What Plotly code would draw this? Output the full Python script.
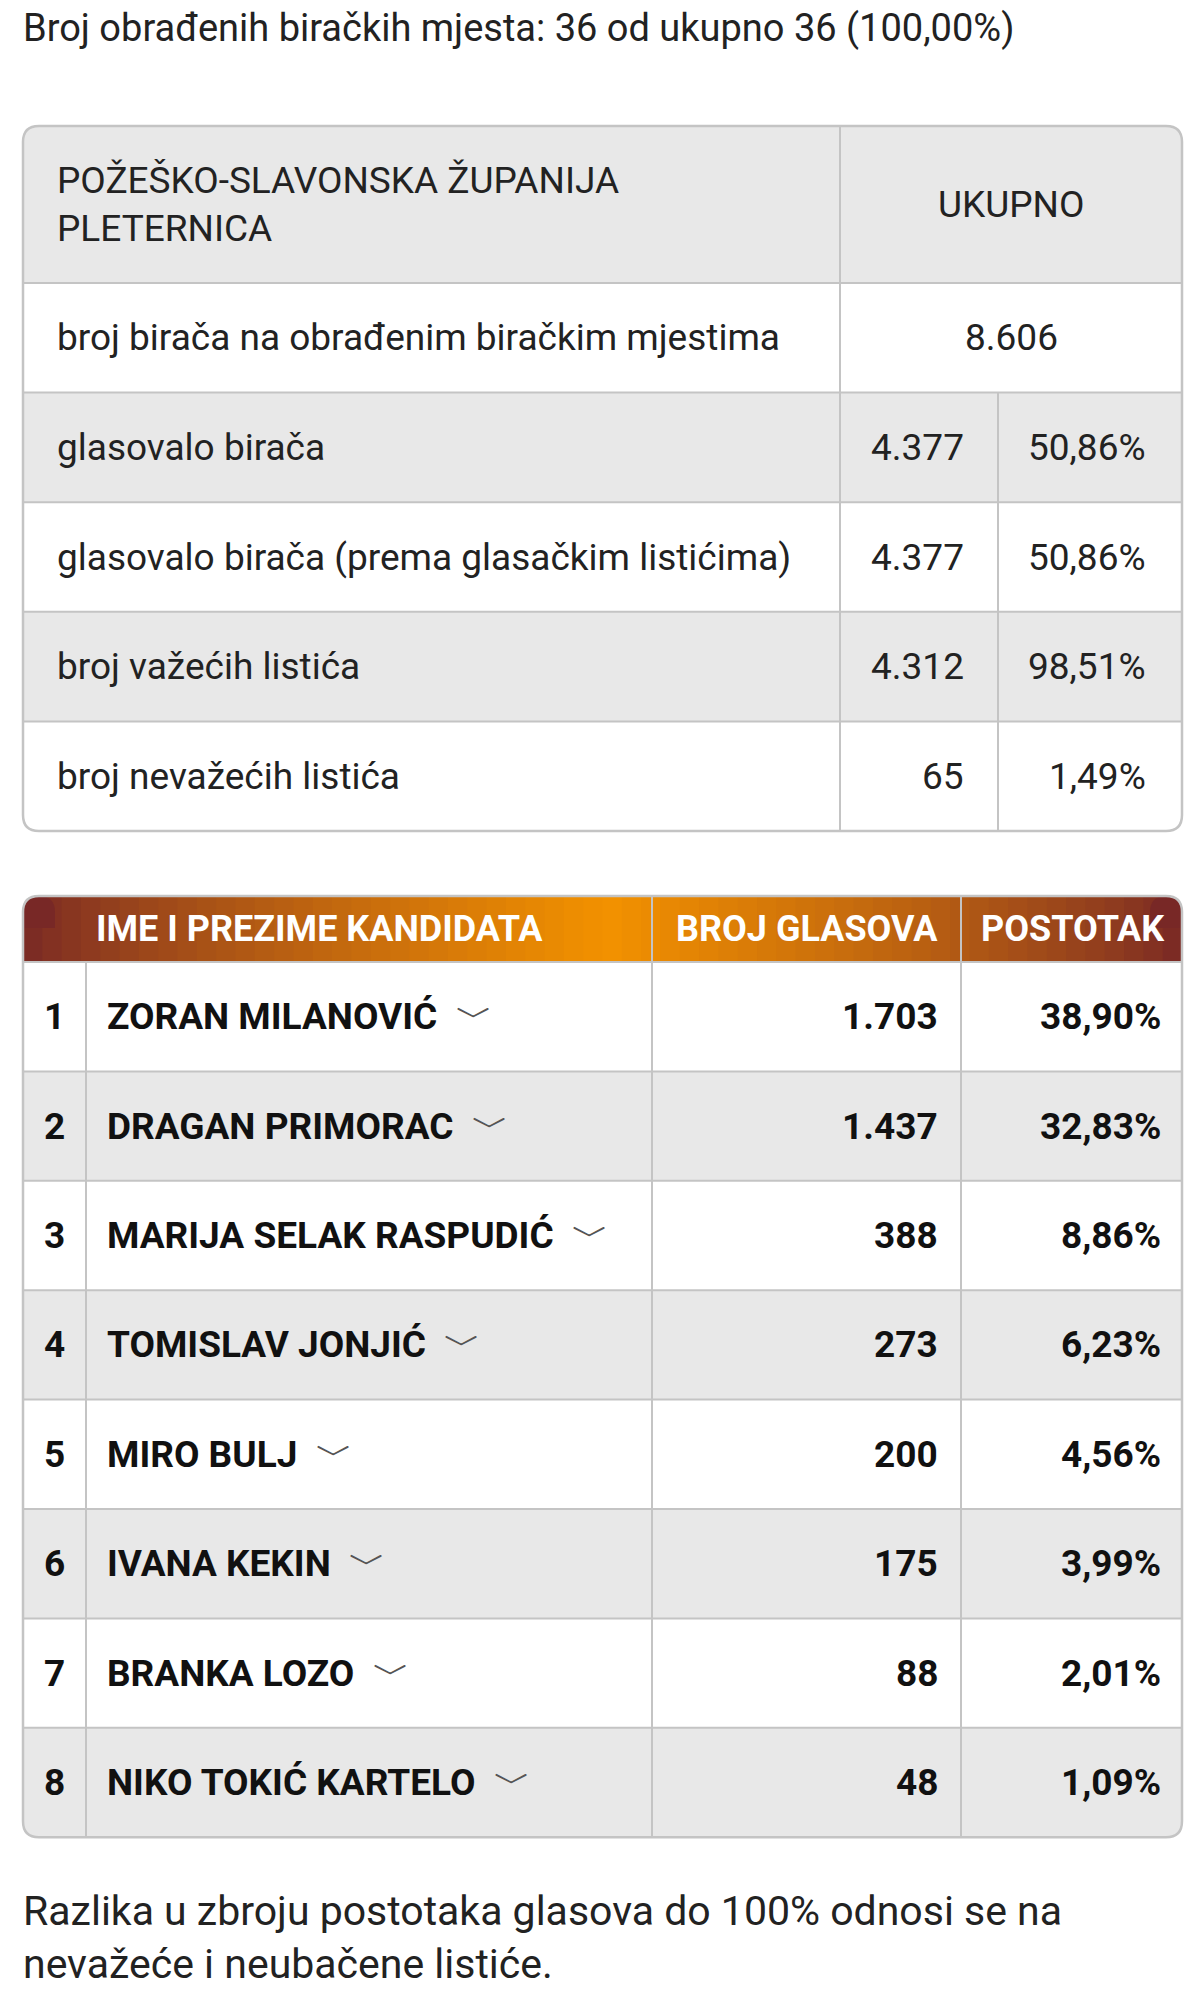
import plotly.graph_objects as go

# data
title = "Broj obrađenih biračkih mjesta: 36 od ukupno 36 (100,00%)"
region = ["POŽEŠKO-SLAVONSKA ŽUPANIJA", "PLETERNICA"]
total_voters = "8.606"
stat_labels = ["glasovalo birača", "glasovalo birača (prema glasačkim listićima)",
               "broj važećih listića", "broj nevažećih listića"]
stat_counts = ["4.377", "4.377", "4.312", "65"]
stat_pcts = ["50,86%", "50,86%", "98,51%", "1,49%"]
headers = ["IME I PREZIME KANDIDATA", "BROJ GLASOVA", "POSTOTAK"]
candidates = ["ZORAN MILANOVIĆ", "DRAGAN PRIMORAC", "MARIJA SELAK RASPUDIĆ", "TOMISLAV JONJIĆ",
              "MIRO BULJ", "IVANA KEKIN", "BRANKA LOZO", "NIKO TOKIĆ KARTELO"]
votes = ["1.703", "1.437", "388", "273", "200", "175", "88", "48"]
pcts = ["38,90%", "32,83%", "8,86%", "6,23%", "4,56%", "3,99%", "2,01%", "1,09%"]
footer = "Razlika u zbroju postotaka glasova do 100% odnosi se na<br>nevažeće i neubačene listiće."

W, H = 1200, 2011
GRAY = "#e8e8e8"
LINE = "#c4c4c4"
FONT = "Roboto"

shapes = []
ann = []


def rpath(x0, y0, x1, y1, rt=0, rb=0):
    return (f"M{x0+rt},{y0} L{x1-rt},{y0} Q{x1},{y0} {x1},{y0+rt} "
            f"L{x1},{y1-rb} Q{x1},{y1} {x1-rb},{y1} L{x0+rb},{y1} Q{x0},{y1} {x0},{y1-rb} "
            f"L{x0},{y0+rt} Q{x0},{y0} {x0+rt},{y0} Z")


def box(x0, y0, x1, y1, fill, rt=0, rb=0):
    shapes.append(dict(type="path", path=rpath(x0, y0, x1, y1, rt, rb), fillcolor=fill,
                       line=dict(width=0), layer="below"))


def line(x0, y0, x1, y1):
    shapes.append(dict(type="line", x0=x0, y0=y0, x1=x1, y1=y1, line=dict(color=LINE, width=2)))


def text(x, y, s, anchor="left", size=37, color="#222", bold=False):
    ann.append(dict(x=x, y=y, text=s, showarrow=False, xanchor=anchor, yanchor="middle", align=anchor,
                    font=dict(family=FONT, size=size, color=color, weight=700 if bold else 400)))


R = 16
text(13, 20, title, size=38)

# ---- table 1
L, Rt = 15, 1174
c1, c2 = 832, 990
t1_top, hdr_h, row_h = 118, 157, 109.6
box(L, t1_top, Rt, t1_top + hdr_h, GRAY, rt=R)
text(47, t1_top + hdr_h / 2, "<br>".join(region))
text((c1 + Rt) / 2, t1_top + hdr_h / 2, "UKUPNO", anchor="center")
rows1 = [("broj birača na obrađenim biračkim mjestima", total_voters, None)] + \
        list(zip(stat_labels, stat_counts, stat_pcts))
y = t1_top + hdr_h
for i, (lab, cnt, pct) in enumerate(rows1):
    last = i == len(rows1) - 1
    box(L, y, Rt, y + row_h, GRAY if i % 2 else "white", rb=R if last else 0)
    line(L, y, Rt, y)
    yc = y + row_h / 2
    text(47, yc, lab)
    if pct is None:
        text((c1 + Rt) / 2, yc, cnt, anchor="center")
    else:
        line(c2, y, c2, y + row_h)
        text(958, yc, cnt, anchor="right")
        text(1140, yc, pct, anchor="right")
    y += row_h
t1_bot = y
line(c1, t1_top, c1, t1_bot)
shapes.append(dict(type="path", path=rpath(L, t1_top, Rt, t1_bot, R, R), line=dict(color=LINE, width=2.5)))

# ---- table 2
k1, k2, k3 = 78, 644, 953
t2_top, h2 = 888, 66
n = 60
for j in range(n):
    xa = L + (Rt - L) * j / n
    xb = L + (Rt - L) * (j + 1) / n + 1
    xm = (xa + xb) / 2
    centre = 600
    f = max(0.0, 1 - abs(xm - centre) / (centre - L if xm < centre else Rt - centre))
    f = f ** 0.8
    r = int(120 + (243 - 120) * f)
    g = int(40 + (146 - 40) * f)
    b = int(38 + (0 - 38) * f)
    shapes.append(dict(type="rect", x0=xa, x1=xb, y0=t2_top + (0 if 2 < j < n - 3 else R), y1=t2_top + h2,
                       fillcolor=f"rgb({r},{g},{b})", line=dict(width=0), layer="below"))
    if j <= 2 or j >= n - 3:
        shapes.append(dict(type="rect", x0=max(xa, L + R if j <= 2 else xa), x1=min(xb, Rt - R if j >= n - 3 else xb),
                           y0=t2_top, y1=t2_top + R + 1, fillcolor=f"rgb({r},{g},{b})",
                           line=dict(width=0), layer="below"))
box(L, t2_top, L + 2 * R, t2_top + 2 * R, "rgb(120,40,38)", rt=R)
box(Rt - 2 * R, t2_top, Rt, t2_top + 2 * R, "rgb(120,40,38)", rt=R)
yh = t2_top + h2 / 2
text(86, yh, headers[0], size=36, color="white", bold=True)
text((k2 + k3) / 2, yh, headers[1], anchor="center", size=36, color="white", bold=True)
text((k3 + Rt) / 2 + 1, yh, headers[2], anchor="center", size=36, color="white", bold=True)
y = t2_top + h2
row_h2 = 109.4
for i, (nm, v, p) in enumerate(zip(candidates, votes, pcts)):
    last = i == len(candidates) - 1
    box(L, y, Rt, y + row_h2, GRAY if i % 2 else "white", rb=R if last else 0)
    line(L, y, Rt, y)
    yc = y + row_h2 / 2
    text((L + k1) / 2, yc, str(i + 1), anchor="center", size=37, color="#111", bold=True)
    text(97, yc, f"{nm}  <span style='font-weight:400;color:#555'>﹀</span>", size=37, color="#111", bold=True)
    text(932, yc, v, anchor="right", size=37, color="#111", bold=True)
    text(1155, yc, p, anchor="right", size=37, color="#111", bold=True)
    y += row_h2
t2_bot = y
line(k1, t2_top + h2, k1, t2_bot)
for xk in (k2, k3):
    line(xk, t2_top, xk, t2_bot)
shapes.append(dict(type="path", path=rpath(L, t2_top, Rt, t2_bot, R, R), line=dict(color=LINE, width=2.5)))

text(13, 1929, footer, size=41)

fig = go.Figure()
fig.update_layout(width=W, height=H, margin=dict(l=0, r=0, t=0, b=0),
                  paper_bgcolor="white", plot_bgcolor="white",
                  xaxis=dict(range=[0, W], visible=False, fixedrange=True),
                  yaxis=dict(range=[H, 0], visible=False, fixedrange=True),
                  shapes=shapes, annotations=ann, showlegend=False)
fig.write_html("out.html")
